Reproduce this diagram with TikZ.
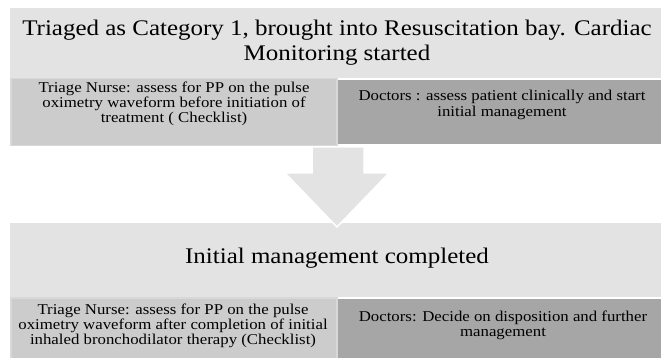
\documentclass[tikz,border=0pt]{standalone}
\usepackage{fontspec}
\setmainfont[FakeStretch=1.12]{Liberation Serif}
\usetikzlibrary{calc}
\definecolor{boxlight}{HTML}{E3E3E3}
\definecolor{boxmid}{HTML}{CCCCCC}
\definecolor{boxmidline}{HTML}{D8D8D8}
\definecolor{boxdark}{HTML}{A6A6A6}
\begin{document}
\begin{tikzpicture}[x=1pt,y=1pt,
  panel/.style={draw=none, inner sep=0pt, outer sep=0pt, anchor=north west},
  midpanel/.style={panel, fill=boxmid, draw=boxmidline, line width=1.5pt},
  titletext/.style={align=center, font=\fontsize{22.3}{25.5}\selectfont, inner sep=0pt},
  subtext/.style={align=center, font=\fontsize{15}{15.3}\selectfont, inner sep=0pt}]
\useasboundingbox (0,0) rectangle (661,-358);
\fill[white] (0,0) rectangle (661,-358);
% top group
\node[panel, fill=boxlight, minimum width=651pt, minimum height=70pt] (top) at (10,-8) {};
\node[midpanel, minimum width=326pt, minimum height=67pt] (topl) at (10.75,-78.75) {};
\node[panel, fill=boxdark, minimum width=323pt, minimum height=64pt] (topr) at (338,-80) {};
\node[titletext] (toptxt) at (337,-42.5) {Triaged as Category 1, brought into Resuscitation bay. Cardiac\\Monitoring started};
\node[subtext] (topltxt) at (174,-104) {Triage Nurse: assess for PP on the pulse\\oximetry waveform before initiation of\\treatment ( Checklist)};
\node[subtext] (toprtxt) at (502,-105) {Doctors : assess patient clinically and start\\initial management};
% bottom group
\node[panel, fill=boxlight, minimum width=651pt, minimum height=74pt] (bot) at (10,-223) {};
\node[midpanel, minimum width=326pt, minimum height=70pt] (botl) at (10.75,-297.75) {};
\node[panel, fill=boxdark, minimum width=323pt, minimum height=60pt] (botr) at (338,-299) {};
\node[titletext] (bottxt) at (337,-258) {Initial management completed};
\node[subtext] (botltxt) at (173,-326) {Triage Nurse: assess for PP on the pulse\\oximetry waveform after completion of initial\\inhaled bronchodilator therapy (Checklist)};
\node[subtext] (botrtxt) at (503,-325) {Doctors: Decide on disposition and further\\management};
% block arrow
\filldraw[fill=boxlight, draw=white, line width=1.5pt]
  (312,-147) -- (364,-147) -- (364,-173) -- (389,-173) -- (337,-227)
  -- (285,-173) -- (312,-173) -- cycle;
\end{tikzpicture}
\end{document}
